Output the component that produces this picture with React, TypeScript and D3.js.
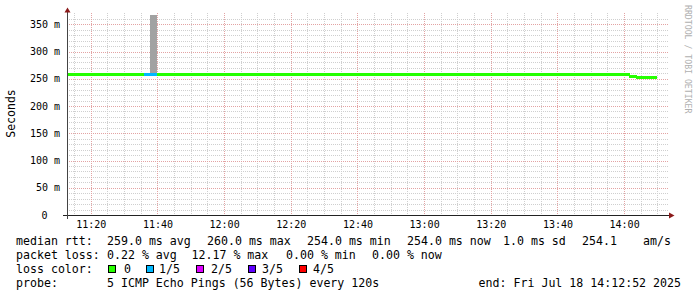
import React from "react";
import * as d3 from "d3";

const W = 697;
const H = 297;

// time window
const startTime = "11:12:52";
const endTime = "14:12:52";

// median rtt segments (ms) and loss (in fifths) per segment
const segStart = ["11:12:52", "11:35:52", "11:39:52", "13:25:52", "14:01:52", "14:03:52"];
const segEnd = ["11:35:52", "11:39:52", "13:25:52", "14:01:52", "14:03:52", "14:09:52"];
const segMedian = [258.6, 258.6, 258.6, 259.0, 255, 254];
const segLoss = [0, 1, 0, 0, 0, 0];

// smoke (ping spread) shown where visible
const smokeStart = ["11:37:52"];
const smokeEnd = ["11:39:52"];
const smokeLow = [259];
const smokeHigh = [420];

const yMajor = [0, 50, 100, 150, 200, 250, 300, 350];
const yMinor = [10, 20, 30, 40, 60, 70, 80, 90, 110, 120, 130, 140, 160, 170, 180, 190, 210, 220, 230, 240, 260, 270, 280, 290, 310, 320, 330, 340, 360];

const lossLabels = ["0", "1/5", "2/5", "3/5", "4/5"];
const lossColors = ["#26ff00", "#00b8ff", "#dd00ff", "#5e00ff", "#ff0000"];

const rttLabels = ["259.0 ms avg", "260.0 ms max", "254.0 ms min", "254.0 ms now", "1.0 ms sd", "254.1", "am/s"];
const lossStatLabels = ["0.22 % avg", "12.17 % max", "0.00 % min", "0.00 % now"];

const t = (s: string) => {
  const [h, m, sec] = s.split(":").map(Number);
  return new Date(2025, 6, 18, h, m, sec);
};

const MONO = "'DejaVu Sans Mono', monospace";

export default function App() {
  const x = d3.scaleTime().domain([t(startTime), t(endTime)]).range([67, 667]);
  const y = d3.scaleLinear().domain([0, 367]).range([215, 15]);

  const majorTicks = d3.timeMinute.every(20)!.range(t(startTime), t(endTime));
  const minorTicks = d3.timeMinute.every(5)!.range(t(startTime), t(endTime));
  const fmt = d3.timeFormat("%H:%M");
  const px = (v: number) => Math.round(v) + 0.5;

  const line = d3.line<[number, number]>().x((d) => Math.round(d[0])).y((d) => px(d[1]));

  const rttX = [107, 207, 307, 407, 503, 582, 643];
  const lossX = [107, 191.5, 286, 372];
  const boxX = [108, 146, 196, 248, 299];
  const boxLabelX = [124, 159, 211, 262, 313];

  return (
    <svg
      width={W}
      height={H}
      style={{ position: "fixed", left: 0, top: 0, background: "#fff" }}
      fontFamily={MONO}
    >
      <rect x={0} y={0} width={W} height={H} fill="#fff" />
      <defs>
        <clipPath id="plot">
          <rect x={67} y={15} width={600} height={200} />
        </clipPath>
      </defs>
      {/* minor grid */}
      {minorTicks
        .filter((d) => !majorTicks.some((m) => +m === +d))
        .map((d, i) => (
          <line key={"vx" + i} x1={px(x(d))} x2={px(x(d))} y1={13} y2={215} stroke="#cfcfcf" strokeDasharray="1,1" />
        ))}
      {yMinor.map((v, i) => (
        <line key={"hy" + i} x1={67} x2={669} y1={px(y(v))} y2={px(y(v))} stroke="#cfcfcf" strokeDasharray="1,1" />
      ))}
      {/* major grid */}
      {majorTicks.map((d, i) => (
        <line key={"mx" + i} x1={px(x(d))} x2={px(x(d))} y1={13} y2={215} stroke="#e3a3a3" strokeDasharray="1,1" />
      ))}
      {yMajor
        .filter((v) => v > 0)
        .map((v, i) => (
          <line key={"my" + i} x1={67} x2={669} y1={px(y(v))} y2={px(y(v))} stroke="#e3a3a3" strokeDasharray="1,1" />
        ))}

      <g clipPath="url(#plot)">
        {smokeStart.map((s, i) => (
          <rect
            key={"sm" + i}
            x={x(t(s))}
            width={x(t(smokeEnd[i])) - x(t(s))}
            y={y(smokeHigh[i])}
            height={y(smokeLow[i]) - y(smokeHigh[i])}
            fill="#a2a2a2"
            shapeRendering="crispEdges"
          />
        ))}
        {segStart.map((s, i) => {
          const pts: [number, number][] = [];
          if (i > 0) pts.push([x(t(s)), y(segMedian[i - 1])]);
          pts.push([x(t(s)), y(segMedian[i])]);
          pts.push([x(t(segEnd[i])), y(segMedian[i])]);
          return (
            <path
              key={"md" + i}
              d={line(pts) || ""}
              fill="none"
              stroke={lossColors[segLoss[i]]}
              strokeWidth={3}
              shapeRendering="crispEdges"
            />
          );
        })}
      </g>

      {/* axes */}
      <line x1={63} x2={670} y1={215.5} y2={215.5} stroke="#222" />
      <line x1={67.5} x2={67.5} y1={219} y2={12} stroke="#444" />
      <path d="M669,212.5 L674.5,215.5 L669,218.5 Z" fill="#8b1a1a" />
      <path d="M64.5,12.5 L67.5,7.5 L70.5,12.5 Z" fill="#8b1a1a" />

      {/* y labels */}
      {yMajor.map((v, i) => (
        <text key={"yl" + i} x={v === 0 ? 47.5 : 60} y={y(v) + 3.6} fontSize={10} textAnchor="end" fill="#000">
          {v === 0 ? "0" : `${v} m`}
        </text>
      ))}
      {/* x labels */}
      {majorTicks.map((d, i) => (
        <text key={"xl" + i} x={x(d) + 0.5} y={228} fontSize={10} textAnchor="middle" fill="#000">
          {fmt(d)}
        </text>
      ))}

      <text transform="translate(15,113.5) rotate(-90)" fontSize={11.5} textAnchor="middle" fill="#000">
        Seconds
      </text>
      <text transform="translate(685,5) rotate(90)" fontSize={8.2} fill="#b0b0b0">
        RRDTOOL / TOBI OETIKER
      </text>

      {/* legend */}
      <g fontSize={11.6} fill="#000">
        <text x={16} y={245}>median rtt:</text>
        {rttLabels.map((s, i) => (
          <text key={"r" + i} x={rttX[i]} y={245}>{s}</text>
        ))}
        <text x={16} y={259}>packet loss:</text>
        {lossStatLabels.map((s, i) => (
          <text key={"l" + i} x={lossX[i]} y={259}>{s}</text>
        ))}
        <text x={16} y={273}>loss color:</text>
        {lossLabels.map((s, i) => (
          <g key={"lc" + i}>
            <rect x={boxX[i] + 0.5} y={265.5} width={7} height={7} fill={lossColors[i]} stroke="#000" />
            <text x={boxLabelX[i]} y={273}>{s}</text>
          </g>
        ))}
        <text x={16} y={287}>probe:</text>
        <text x={107} y={287}>5 ICMP Echo Pings (56 Bytes) every 120s</text>
        <text x={681} y={287} textAnchor="end">end: Fri Jul 18 14:12:52 2025</text>
      </g>
    </svg>
  );
}
